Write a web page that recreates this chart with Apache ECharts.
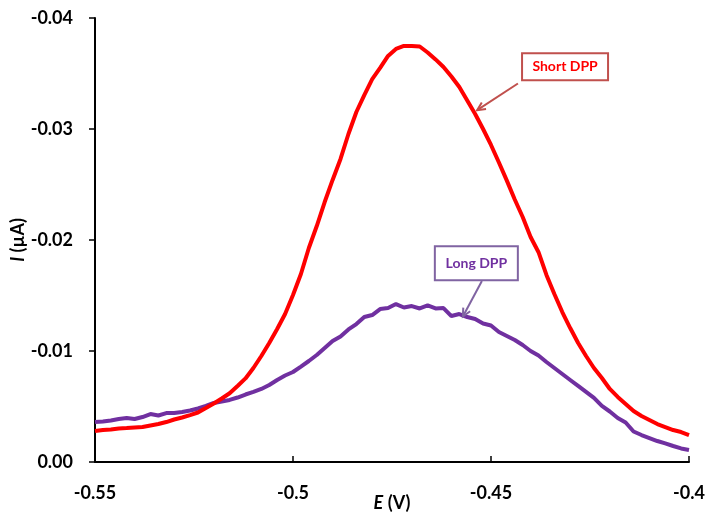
<!DOCTYPE html>
<html>
<head>
<meta charset="utf-8">
<script src="https://cdn.jsdelivr.net/npm/echarts@6/dist/echarts.min.js"></script>
<style>
  html, body { margin: 0; padding: 0; background: #fff; }
  #chart { width: 708px; height: 515px; }
</style>
</head>
<body>
<div id="chart"></div>
<script>
// Potential sweep (V)
const potential = [
  -0.550, -0.548, -0.546, -0.544, -0.542, -0.540, -0.538, -0.536, -0.534, -0.532,
  -0.530, -0.528, -0.526, -0.524, -0.522, -0.520, -0.518, -0.516, -0.514, -0.512,
  -0.510, -0.508, -0.506, -0.504, -0.502, -0.500, -0.498, -0.496, -0.494, -0.492,
  -0.490, -0.488, -0.486, -0.484, -0.482, -0.480, -0.478, -0.476, -0.474, -0.472,
  -0.470, -0.468, -0.466, -0.464, -0.462, -0.460, -0.458, -0.456, -0.454, -0.452,
  -0.450, -0.448, -0.446, -0.444, -0.442, -0.440, -0.438, -0.436, -0.434, -0.432,
  -0.430, -0.428, -0.426, -0.424, -0.422, -0.420, -0.418, -0.416, -0.414, -0.412,
  -0.410, -0.408, -0.406, -0.404, -0.402, -0.400
];

// Current (µA), short DPP probe
const shortDPP = [
  -0.00279, -0.00288, -0.00293, -0.00302, -0.00306, -0.00311, -0.00315, -0.00329, -0.00342, -0.00360,
  -0.00383, -0.00401, -0.00423, -0.00446, -0.00486, -0.00527, -0.00572, -0.00619, -0.00685, -0.00753,
  -0.00847, -0.00955, -0.01072, -0.01198, -0.01333, -0.01505, -0.01694, -0.01928, -0.02126, -0.02342,
  -0.02541, -0.02730, -0.02955, -0.03153, -0.03306, -0.03450, -0.03550, -0.03658, -0.03721, -0.03748,
  -0.03748, -0.03743, -0.03689, -0.03627, -0.03559, -0.03473, -0.03378, -0.03257, -0.03135, -0.03000,
  -0.02856, -0.02698, -0.02535, -0.02365, -0.02207, -0.02027, -0.01890, -0.01685, -0.01514, -0.01351,
  -0.01207, -0.01072, -0.00955, -0.00847, -0.00757, -0.00658, -0.00586, -0.00523, -0.00459, -0.00414,
  -0.00378, -0.00342, -0.00315, -0.00288, -0.00270, -0.00243
];

// Current (µA), long DPP probe
const longDPP = [
  -0.00360, -0.00365, -0.00374, -0.00387, -0.00396, -0.00387, -0.00405, -0.00432, -0.00419, -0.00441,
  -0.00441, -0.00450, -0.00464, -0.00482, -0.00505, -0.00532, -0.00545, -0.00559, -0.00581, -0.00608,
  -0.00631, -0.00658, -0.00694, -0.00739, -0.00779, -0.00811, -0.00860, -0.00910, -0.00964, -0.01027,
  -0.01090, -0.01131, -0.01194, -0.01243, -0.01306, -0.01324, -0.01378, -0.01387, -0.01423, -0.01392,
  -0.01405, -0.01383, -0.01410, -0.01383, -0.01387, -0.01315, -0.01333, -0.01306, -0.01288, -0.01248,
  -0.01230, -0.01171, -0.01135, -0.01099, -0.01054, -0.01000, -0.00959, -0.00901, -0.00847, -0.00793,
  -0.00739, -0.00685, -0.00631, -0.00577, -0.00505, -0.00455, -0.00396, -0.00356, -0.00275, -0.00243,
  -0.00216, -0.00189, -0.00167, -0.00144, -0.00122, -0.00108
];

// Axis ticks
const xTicks = [-0.55, -0.5, -0.45, -0.4];
const yTicks = [0, -0.01, -0.02, -0.03, -0.04];

// Callout labels: box centre and arrow tail/tip in data coordinates
const shortLabel = { text: 'Short DPP', box: [-0.4313, -0.0356], tail: [-0.4432, -0.0341], tip: [-0.4535, -0.0317] };
const longLabel  = { text: 'Long DPP',  box: [-0.4537, -0.0179], tail: [-0.4523, -0.0163], tip: [-0.4571, -0.0131] };

const FONT = 'Lato, "Open Sans", sans-serif';
const RED = '#FF0000';
const PURPLE = '#7030A0';

const pair = (ys) => potential.map((x, i) => [x, ys[i]]);

const chart = echarts.init(document.getElementById('chart'), null, { renderer: 'canvas' });

const titleStyle = {
  color: '#000', fontFamily: FONT, fontWeight: 'bold', fontSize: 18,
  rich: { i: { fontStyle: 'italic', fontWeight: 'bold', fontFamily: FONT, fontSize: 18, color: '#000' } }
};

const option = {
  animation: false,
  backgroundColor: '#fff',
  grid: { left: 95, right: 19, top: 18, bottom: 53, containLabel: false, outerBoundsMode: 'none' },
  xAxis: {
    type: 'value',
    min: xTicks[0], max: xTicks[xTicks.length - 1], interval: 0.05,
    position: 'bottom',
    axisLine: { onZero: false, lineStyle: { color: '#000', width: 2 } },
    axisTick: { inside: true, length: 6, lineStyle: { color: '#000', width: 1.5 } },
    splitLine: { show: false },
    axisLabel: {
      margin: 22, color: '#000', fontFamily: FONT, fontWeight: 'bold', fontSize: 18,
      formatter: (v) => String(parseFloat(v.toFixed(2)))
    },
    name: '{i|E} (V)',
    nameLocation: 'middle', nameGap: 32, nameMoveOverlap: false,
    nameTextStyle: titleStyle
  },
  yAxis: {
    type: 'value',
    min: yTicks[yTicks.length - 1], max: yTicks[0], interval: 0.01,
    inverse: true,
    axisLine: { show: true, lineStyle: { color: '#000', width: 2 } },
    axisTick: { show: true, inside: false, length: 6, lineStyle: { color: '#000', width: 1.5 } },
    splitLine: { show: false },
    axisLabel: {
      margin: 22, color: '#000', fontFamily: FONT, fontWeight: 'bold', fontSize: 18,
      formatter: (v) => Math.abs(v) < 1e-9 ? '0.00' : v.toFixed(2)
    },
    name: '{i|I} (µA)',
    nameLocation: 'middle', nameGap: 68, nameRotate: 90, nameMoveOverlap: false,
    nameTextStyle: titleStyle
  },
  series: [
    {
      name: 'Long DPP', type: 'line', data: pair(longDPP),
      showSymbol: false, smooth: false,
      lineStyle: { color: PURPLE, width: 4 }, itemStyle: { color: PURPLE }, z: 2
    },
    {
      name: 'Short DPP', type: 'line', data: pair(shortDPP),
      showSymbol: false, smooth: false,
      lineStyle: { color: RED, width: 4 }, itemStyle: { color: RED }, z: 3
    }
  ]
};

chart.setOption(option);

// Callout boxes with open arrowheads, positioned through the grid's coordinate system
function callout(lbl, w, h, border, textColor, arrowColor) {
  const c = chart.convertToPixel({ gridIndex: 0 }, lbl.box);
  const t = chart.convertToPixel({ gridIndex: 0 }, lbl.tail);
  const p = chart.convertToPixel({ gridIndex: 0 }, lbl.tip);
  const ang = Math.atan2(p[1] - t[1], p[0] - t[0]);
  const hl = 9, spread = 0.45;
  const h1 = [p[0] - hl * Math.cos(ang - spread), p[1] - hl * Math.sin(ang - spread)];
  const h2 = [p[0] - hl * Math.cos(ang + spread), p[1] - hl * Math.sin(ang + spread)];
  return [
    { type: 'rect', shape: { x: c[0] - w / 2, y: c[1] - h / 2, width: w, height: h },
      style: { fill: '#fff', stroke: border, lineWidth: 2 }, z: 10 },
    { type: 'text', x: c[0], y: c[1],
      style: { text: lbl.text, fill: textColor, font: 'bold 14px ' + FONT, align: 'center', verticalAlign: 'middle' }, z: 11 },
    { type: 'line', shape: { x1: t[0], y1: t[1], x2: p[0], y2: p[1] },
      style: { stroke: arrowColor, lineWidth: 2 }, z: 10 },
    { type: 'polyline', shape: { points: [h1, p, h2] },
      style: { stroke: arrowColor, lineWidth: 2, fill: null }, z: 10 }
  ];
}

chart.setOption({
  graphic: [
    ...callout(shortLabel, 86, 27, '#C0504D', RED, '#C0504D'),
    ...callout(longLabel, 83, 34, '#8064A2', PURPLE, '#8064A2')
  ]
});
</script>
</body>
</html>
